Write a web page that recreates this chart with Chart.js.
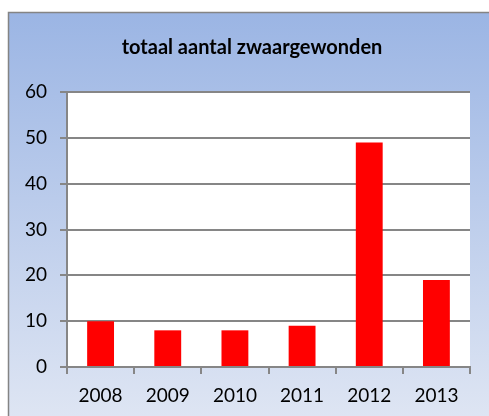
<!DOCTYPE html>
<html>
<head>
<meta charset="utf-8">
<script src="https://cdn.jsdelivr.net/npm/chart.js@4"></script>
<style>
  html, body { margin: 0; padding: 0; background: #ffffff; }
  #chart { display: block; }
</style>
</head>
<body>
<canvas id="chart" width="489" height="416"></canvas>
<script>
const CHART_TITLE = 'totaal aantal zwaargewonden';
const YEARS = ['2008', '2009', '2010', '2011', '2012', '2013'];
const ZWAARGEWONDEN = [10, 8, 8, 9, 49, 19];
const Y_MIN = 0;
const Y_MAX = 60;
const Y_STEP = 10;

const FONT_FAMILY = 'Lato, "Open Sans", sans-serif';
const GRID_COLOR = '#868686';

// background panel with the blue gradient + title text
const panelPlugin = {
    id: 'panel',
    beforeDraw(chart) {
        let ctx = chart.ctx;
        ctx.save();
        ctx.fillStyle = '#ffffff';
        ctx.fillRect(0, 0, chart.width, chart.height);

        let grad = ctx.createLinearGradient(0, 12, 0, chart.height);
        grad.addColorStop(0, '#9bb5e4');
        grad.addColorStop(1, '#dee5f3');
        ctx.fillStyle = grad;
        ctx.fillRect(8, 12, chart.width, chart.height);

        ctx.strokeStyle = '#848484';
        ctx.lineWidth = 1.5;
        ctx.beginPath();
        ctx.moveTo(8.5, chart.height + 5);
        ctx.lineTo(8.5, 12.5);
        ctx.lineTo(chart.width + 5, 12.5);
        ctx.stroke();

        // white plot area
        let a = chart.chartArea;
        ctx.fillStyle = '#ffffff';
        ctx.fillRect(a.left, a.top, a.right - a.left, a.bottom - a.top);

        ctx.fillStyle = '#000000';
        ctx.font = 'bold 20px ' + FONT_FAMILY;
        ctx.textAlign = 'center';
        ctx.textBaseline = 'middle';
        ctx.fillText(CHART_TITLE, 252, 48);
        ctx.restore();
    }
};

new Chart(document.getElementById('chart'), {
    type: 'bar',
    data: {
        labels: YEARS,
        datasets: [{
            label: CHART_TITLE,
            data: ZWAARGEWONDEN,
            backgroundColor: '#ff0000',
            borderWidth: 0,
            barPercentage: 0.4,
            categoryPercentage: 1.0
        }]
    },
    options: {
        responsive: false,
        animation: false,
        devicePixelRatio: 1,
        layout: {
            padding: { left: 0, right: 19, top: 92, bottom: 0 }
        },
        plugins: {
            legend: { display: false },
            title: { display: false },
            tooltip: { enabled: false }
        },
        scales: {
            x: {
                afterFit: scale => { scale.height = 49; },
                grid: {
                    offset: true,
                    drawOnChartArea: false,
                    drawTicks: true,
                    tickLength: 7,
                    color: GRID_COLOR,
                    lineWidth: 2
                },
                border: { color: GRID_COLOR, width: 2 },
                ticks: {
                    color: '#000000',
                    padding: 10,
                    font: { family: FONT_FAMILY, size: 19 }
                }
            },
            y: {
                min: Y_MIN,
                max: Y_MAX,
                afterFit: scale => { scale.width = 67; },
                grid: {
                    color: GRID_COLOR,
                    lineWidth: 2,
                    tickLength: 7
                },
                border: { color: GRID_COLOR, width: 2 },
                ticks: {
                    stepSize: Y_STEP,
                    color: '#000000',
                    padding: 13,
                    font: { family: FONT_FAMILY, size: 19 }
                }
            }
        }
    },
    plugins: [panelPlugin]
});
</script>
</body>
</html>
